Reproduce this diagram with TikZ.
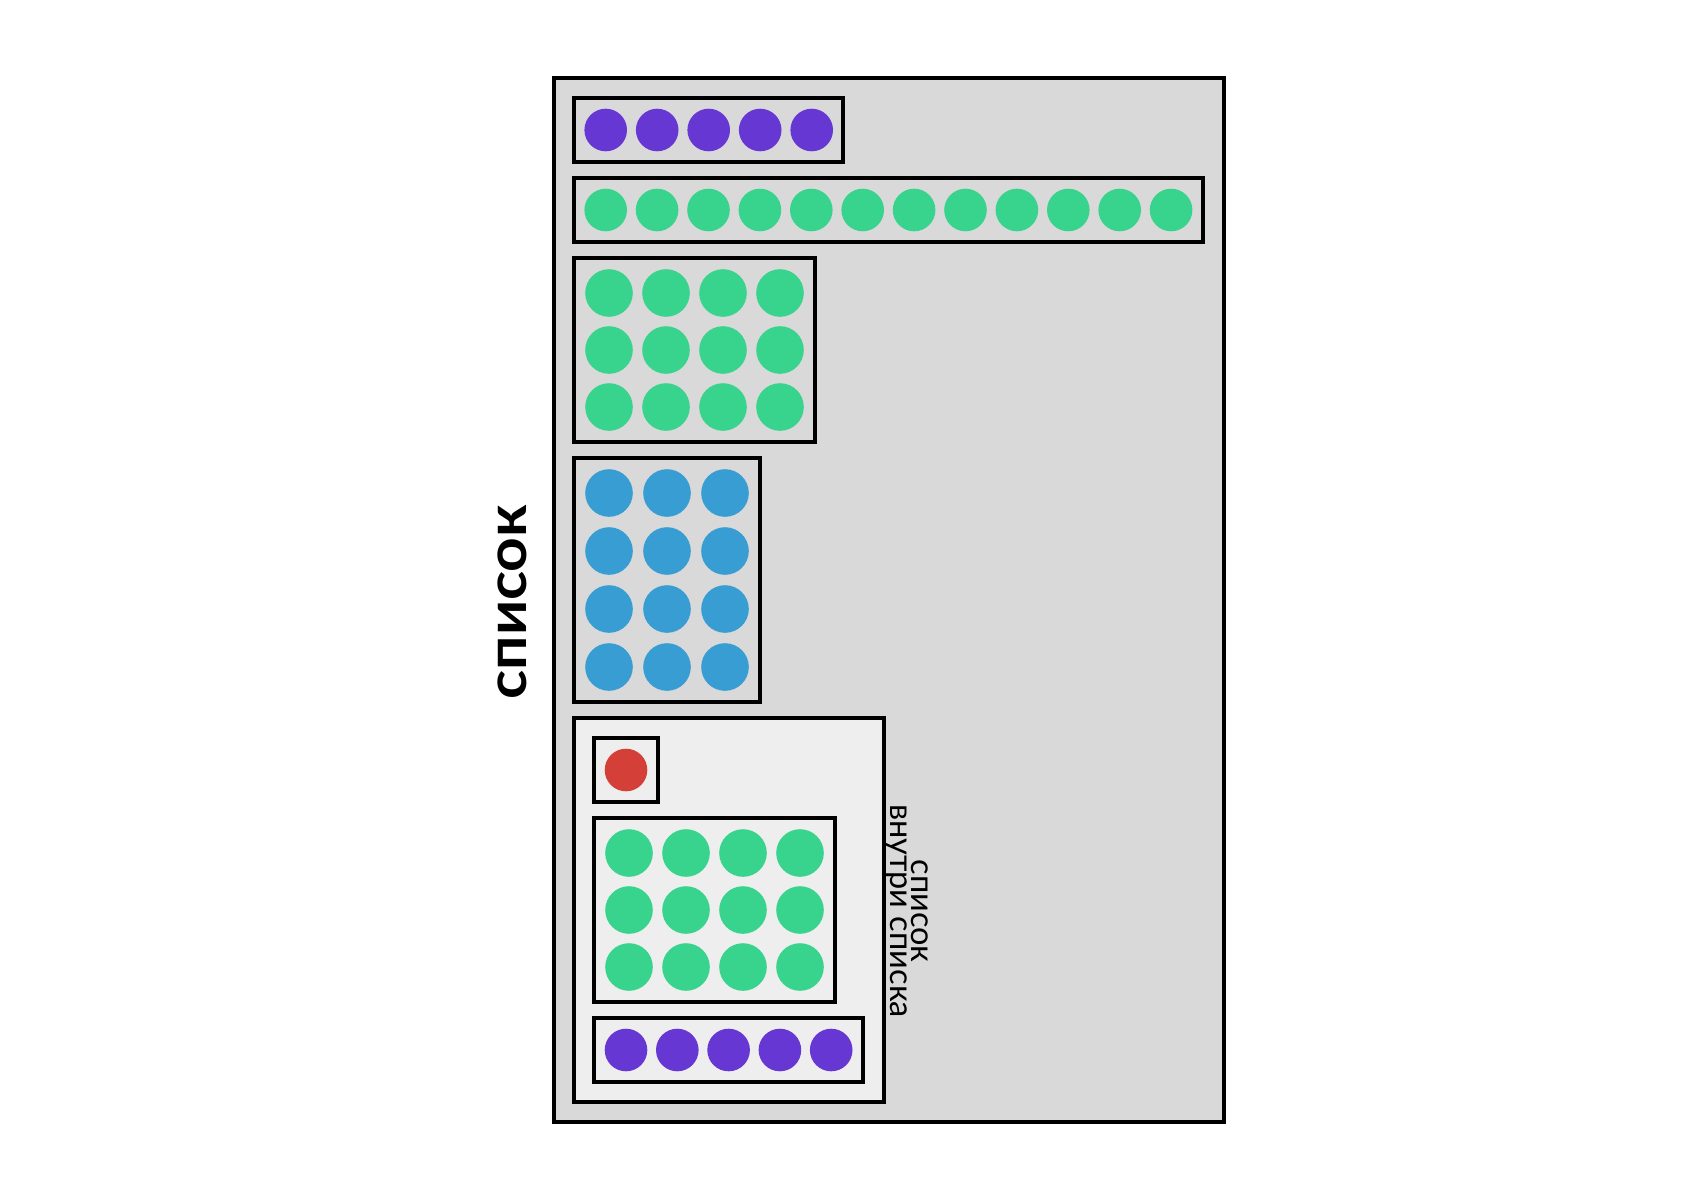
\documentclass[tikz,border=0pt]{standalone}
\usepackage{fontspec}
\setmainfont{Lato}
\newfontfamily\labfont[FakeStretch=1.1]{Lato}
\definecolor{cpurple}{HTML}{6737D3}
\definecolor{cgreen}{HTML}{38D38C}
\definecolor{cblue}{HTML}{379DD2}
\definecolor{cred}{HTML}{D43F38}
\definecolor{cgray}{HTML}{D9D9D9}
\definecolor{clight}{HTML}{EEEEEE}
\begin{document}
\begin{tikzpicture}[x=1pt,y=-1pt,
  box/.style={draw=black,line width=3.5pt,fill=cgray,rectangle,inner sep=0pt,outer sep=0pt,anchor=north west},
  outerbox/.style={draw=black,line width=4pt,fill=cgray,rectangle,inner sep=0pt,outer sep=0pt,anchor=north west},
  dotS/.style={circle,inner sep=0pt,minimum size=42.6pt,fill=#1},
  dotL/.style={circle,inner sep=0pt,minimum size=47.6pt,fill=#1}]
\fill[white] (0,0) rectangle (1700,1180);
\useasboundingbox (0,0) rectangle (1700,1180);
% outer list
\node[outerbox,minimum width=670pt,minimum height=1044pt] (outer) at (554,78) {};
% row of purple
\node[box,minimum width=269pt,minimum height=64pt] (boxA) at (574,98) {};
\foreach \i in {0,...,4}
  \node[dotS=cpurple] (a\i) at ({605.7+51.5*\i},130) {};
% row of green
\node[box,minimum width=629pt,minimum height=64pt] (boxB) at (574,178) {};
\foreach \i in {0,...,11}
  \node[dotS=cgreen] (b\i) at ({605.7+51.4*\i},210) {};
% green grid
\node[box,minimum width=241pt,minimum height=184pt] (boxC) at (574,258) {};
\foreach \i in {0,...,3}
  \foreach \j in {0,...,2}
    \node[dotL=cgreen] (c\i\j) at ({609+57*\i},{293+57*\j}) {};
% blue grid
\node[box,minimum width=186pt,minimum height=244pt] (boxD) at (574,458) {};
\foreach \i in {0,...,2}
  \foreach \j in {0,...,3}
    \node[dotL=cblue] (d\i\j) at ({609+58*\i},{493+58*\j}) {};
% nested list
\node[box,fill=clight,minimum width=310pt,minimum height=384pt] (boxE) at (574,718) {};
\node[box,fill=clight,minimum width=64pt,minimum height=64pt] (boxE1) at (594,738) {};
\node[dotS=cred] (e1) at (626,770) {};
\node[box,fill=clight,minimum width=241pt,minimum height=184pt] (boxE2) at (594,818) {};
\foreach \i in {0,...,3}
  \foreach \j in {0,...,2}
    \node[dotL=cgreen] (f\i\j) at ({629+57*\i},{853+57*\j}) {};
\node[box,fill=clight,minimum width=269pt,minimum height=64pt] (boxE3) at (594,1018) {};
\foreach \i in {0,...,4}
  \node[dotS=cpurple] (g\i) at ({626+51.3*\i},1050) {};
% labels
\node[rotate=-90,align=center,inner sep=0pt,font=\fontsize{32.5pt}{21pt}\selectfont] (lblE) at (907,911) {список\\внутри списка};
\node[rotate=90,inner sep=0pt,font=\labfont\fontsize{55pt}{55pt}\selectfont\bfseries] (lbl) at (512,602) {список};
\end{tikzpicture}
\end{document}
